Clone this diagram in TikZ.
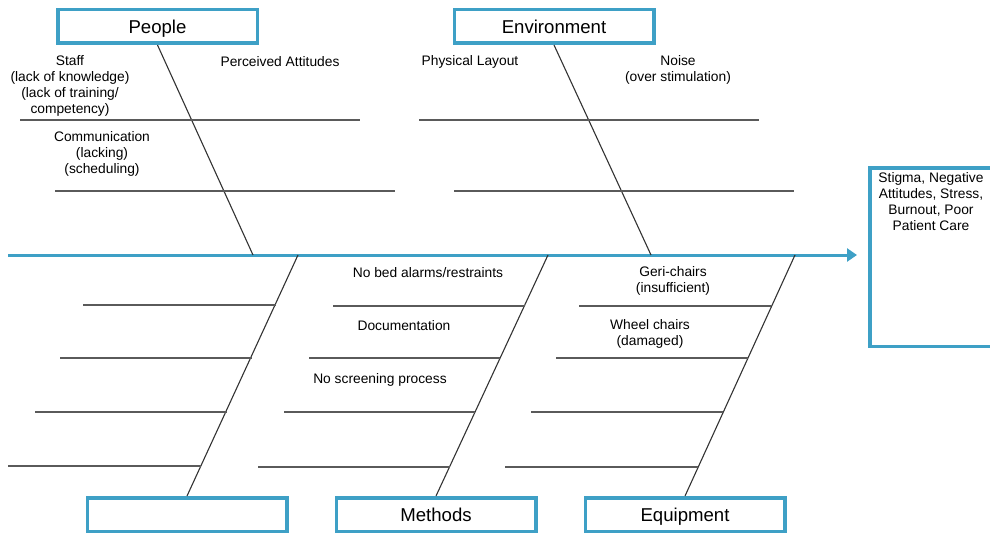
\documentclass[tikz,border=0pt]{standalone}
\usepackage{fontspec}
\setmainfont{Liberation Sans}
\usepackage{tikz}
\usetikzlibrary{positioning, arrows.meta}
\definecolor{fishblue}{RGB}{62,160,198}
\definecolor{ribgray}{RGB}{90,90,90}

\begin{document}
\begin{tikzpicture}[x=1pt, y=-1pt,
    catbox/.style={draw=fishblue, line width=3.5pt, minimum width=199.5pt, minimum height=33.5pt, inner sep=0pt, text height=13.3pt, text depth=0pt, font=\fontsize{18.6}{22}\selectfont},
    cause/.style={align=center, inner sep=0pt, font=\fontsize{13.8}{16}\selectfont},
    bone/.style={draw=black!80, line width=1.1pt},
    rib/.style={draw=ribgray, line width=1.4pt},
    spine/.style={draw=fishblue, line width=3pt, -{Triangle[length=10pt, width=13pt]}}]
    \clip (0,0) rectangle (990,535);

    % Category boxes
    \node[catbox] (people) at (157.5,26.5) {People};
    \node[catbox] (environment) at (554,26.5) {Environment};
    \node[catbox] (blank) at (187,514.5) {};
    \node[catbox] (methods) at (436,514.5) {Methods};
    \node[catbox] (equipment) at (685,514.5) {Equipment};

    % Effect box (runs past the right edge)
    \node[draw=fishblue, line width=3.5pt, minimum width=122.5pt, minimum height=178.5pt, inner sep=0pt] (effect) at (931,257) {};
    \node[cause, below=6.5pt of effect.north] (effecttext)
        {Stigma, Negative\\Attitudes, Stress,\\Burnout, Poor\\Patient Care};

    % Spine
    \coordinate (tail) at (8,255);
    \draw[spine, shorten >=11pt] (tail) -- (tail -| effect.west);

    % Main bones
    \coordinate (p-end) at (253,255);
    \coordinate (e-end) at (651,255);
    \coordinate (b-end) at (298,255);
    \coordinate (m-end) at (548,255);
    \coordinate (q-end) at (795,255);
    \draw[bone] (people.south) -- (p-end);
    \draw[bone] (environment.south) -- (e-end);
    \draw[bone] (blank.north) -- (b-end);
    \draw[bone] (methods.north) -- (m-end);
    \draw[bone] (equipment.north) -- (q-end);

    % Ribs on the top bones
    \draw[rib] (20,120) -- (360,120);
    \draw[rib] (55,191) -- (395,191);
    \draw[rib] (419,120) -- (759,120);
    \draw[rib] (454,191) -- (794,191);

    % Ribs on the bottom bones
    \draw[rib] (83,305) -- (276,305);
    \draw[rib] (60,358) -- (252,358);
    \draw[rib] (35,412) -- (227,412);
    \draw[rib] (8,466) -- (201,466);

    \draw[rib] (333,306) -- (525,306);
    \draw[rib] (309,358) -- (500,358);
    \draw[rib] (284,412) -- (475,412);
    \draw[rib] (258,467) -- (450,467);

    \draw[rib] (579,306) -- (771,306);
    \draw[rib] (556,358) -- (748,358);
    \draw[rib] (531,412) -- (723,412);
    \draw[rib] (505,467) -- (698,467);

    % Causes
    \node[cause] (staff) at (70,85.5) {Staff\\(lack of knowledge)\\(lack of training/\\competency)};
    \node[cause] (attitudes) at (280,61.5) {Perceived Attitudes};
    \node[cause] (communication) at (102,153.5) {Communication\\(lacking)\\(scheduling)};
    \node[cause] (layout) at (470,61.5) {Physical Layout};
    \node[cause] (noise) at (678,69.5) {Noise\\(over stimulation)};
    \node[cause] (alarms) at (428,272.5) {No bed alarms/restraints};
    \node[cause] (documentation) at (404,325.5) {Documentation};
    \node[cause] (screening) at (380,379.5) {No screening process};
    \node[cause] (gerichairs) at (673,281) {Geri-chairs\\(insufficient)};
    \node[cause] (wheelchairs) at (650,334) {Wheel chairs\\(damaged)};
\end{tikzpicture}
\end{document}
